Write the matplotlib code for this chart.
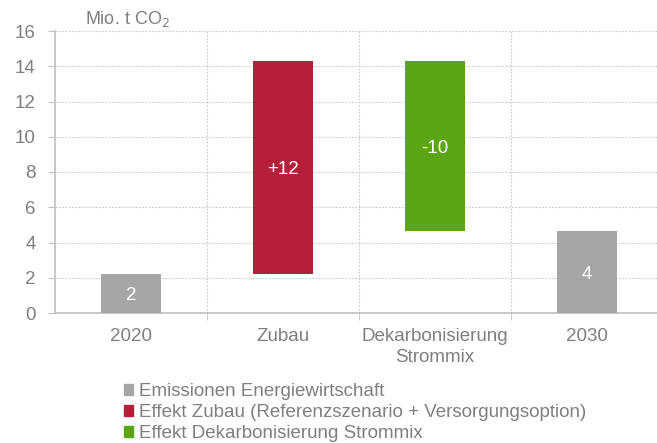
import matplotlib.pyplot as plt
from matplotlib.patches import Patch

# categories and waterfall values (Mio. t CO2)
categories = ["2020", "Zubau", "Dekarbonisierung\nStrommix", "2030"]
bottoms = [0, 2.24, 4.65, 0]
heights = [2.24, 12.04, 9.63, 4.65]
labels = ["2", "+12", "-10", "4"]
kinds = [0, 1, 2, 0]

legend_labels = ["Emissionen Energiewirtschaft",
                 "Effekt Zubau (Referenzszenario + Versorgungsoption)",
                 "Effekt Dekarbonisierung Strommix"]
colors = ["#a6a6a6", "#b51f3a", "#5ba616"]

plt.rcParams['font.family'] = ['Liberation Sans', 'DejaVu Sans']
txt = "#7f7f7f"
axc = "#bfbfbf"
fs = 13.5

fig = plt.figure(figsize=(6.57, 4.43), dpi=100)
ax = fig.add_axes([55/657, 130/443, 608/657, 282/443])

x = range(len(categories))
bars = ax.bar(x, heights, bottom=bottoms, width=0.4,
              color=[colors[k] for k in kinds], zorder=3)
for b, lab in zip(bars, labels):
    ax.text(b.get_x() + b.get_width()/2, b.get_y() + b.get_height()/2, lab,
            ha='center', va='center_baseline', color='white', fontsize=fs, zorder=4)

ax.set_xlim(-0.5, 3.5)
ax.set_ylim(0, 16)
ax.set_yticks(range(0, 17, 2))
ax.set_xticks(list(x))
ax.set_xticklabels(categories, color=txt, fontsize=fs, linespacing=1.25)
ax.tick_params(axis='x', length=0, pad=11)
ax.set_xticks([0.5, 1.5, 2.5], minor=True)
ax.tick_params(axis='x', which='minor', length=5, color=axc, direction='out')
ax.tick_params(axis='y', labelsize=fs, labelcolor=txt, color=axc, length=5, pad=9)

ax.grid(axis='y', linestyle=(0, (1.5, 1.5)), color="#c8c8c8", linewidth=0.8, zorder=0)
ax.grid(axis='x', which='minor', linestyle=(0, (1.5, 1.5)), color="#c8c8c8", linewidth=0.8, zorder=0)
for s in ['top', 'right']:
    ax.spines[s].set_visible(False)
for s in ['left', 'bottom']:
    ax.spines[s].set_color(axc)
    ax.spines[s].set_linewidth(1.2)

fig.text(85/657, 1 - 19/443, "Mio. t CO$_2$", color=txt, fontsize=13, va='center')

handles = [Patch(color=c) for c in colors]
fig.legend(handles, legend_labels, loc='upper left', bbox_to_anchor=(124/657, 1 - 383/443),
           frameon=False, fontsize=fs, labelcolor=txt, handlelength=0.5, handleheight=0.5,
           handletextpad=0.3, labelspacing=0.22, borderaxespad=0, borderpad=0)

fig.savefig("out.png", dpi=100)
